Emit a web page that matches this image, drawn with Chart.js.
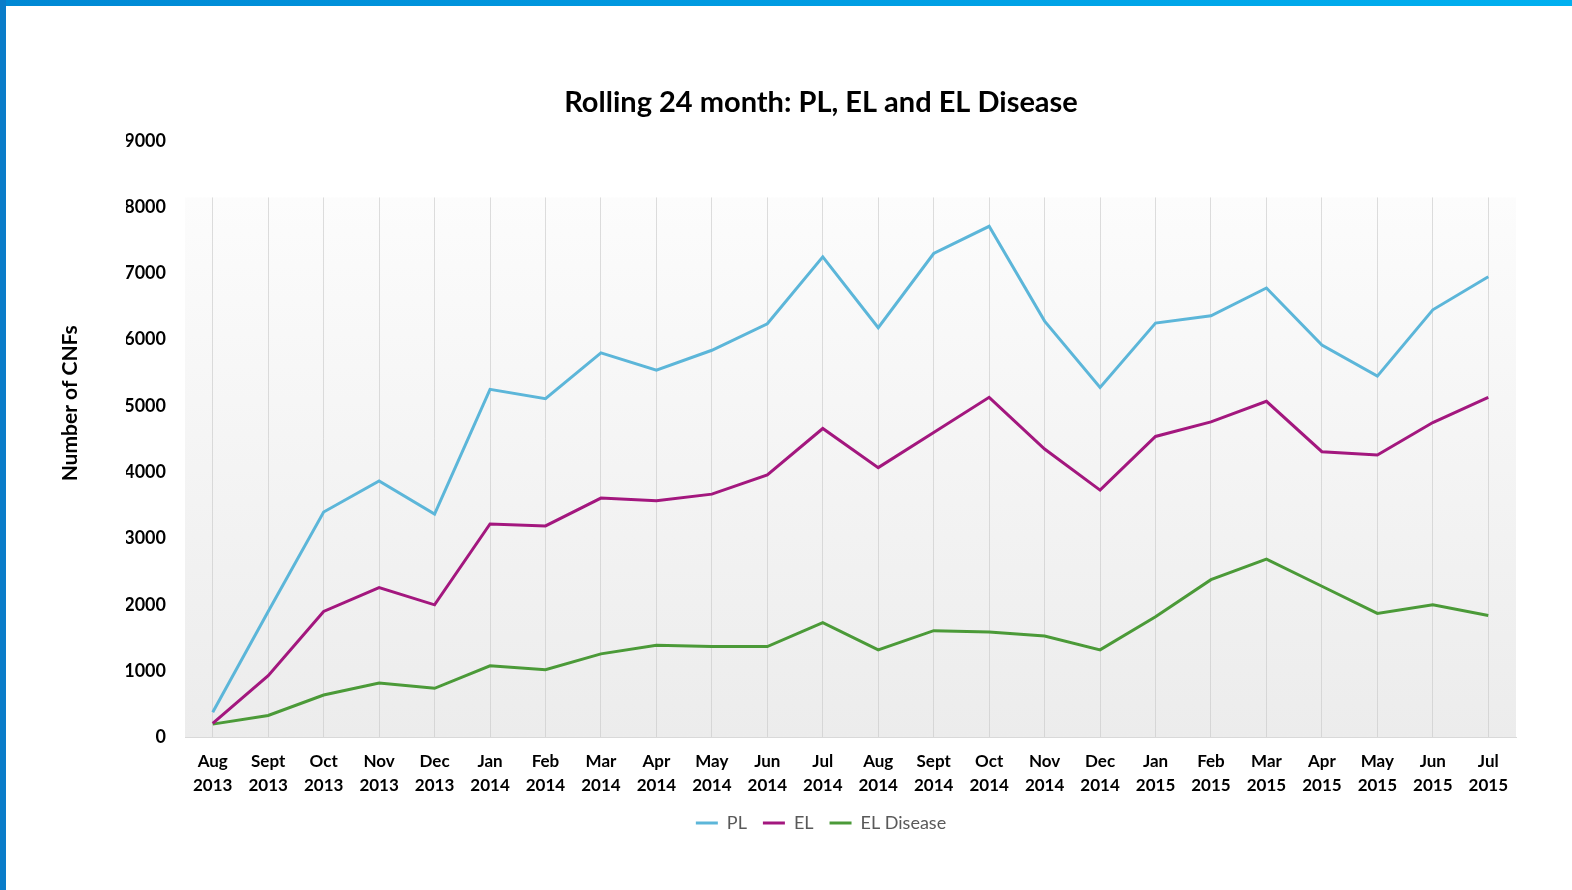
<!DOCTYPE html>
<html>
<head>
<meta charset="utf-8">
<script src="https://cdn.jsdelivr.net/npm/chart.js@4.4.0/dist/chart.umd.min.js"></script>
<style>
  body { margin: 0; background: #fff; }
  #wrap { position: relative; width: 1572px; height: 890px; overflow: hidden; }
  #topbar { position: absolute; left: 0; top: 0; width: 1572px; height: 6px;
            background: linear-gradient(to right, #0088d4, #00b0f0); }
  #leftbar { position: absolute; left: 0; top: 0; width: 6px; height: 890px; background: #0a7cc9; }
  canvas { position: absolute; left: 0; top: 0; }
</style>
</head>
<body>
<div id="wrap">
  <canvas id="chart" width="1572" height="890"></canvas>
  <div id="topbar"></div>
  <div id="leftbar"></div>
</div>
<script>
// nhãn trục x
const months = [
  ['Aug', '2013'], ['Sept', '2013'], ['Oct', '2013'], ['Nov', '2013'], ['Dec', '2013'],
  ['Jan', '2014'], ['Feb', '2014'], ['Mar', '2014'], ['Apr', '2014'], ['May', '2014'],
  ['Jun', '2014'], ['Jul', '2014'], ['Aug', '2014'], ['Sept', '2014'], ['Oct', '2014'],
  ['Nov', '2014'], ['Dec', '2014'], ['Jan', '2015'], ['Feb', '2015'], ['Mar', '2015'],
  ['Apr', '2015'], ['May', '2015'], ['Jun', '2015'], ['Jul', '2015']
];

const plValues = [380, 1900, 3400, 3870, 3370, 5250, 5110, 5800, 5540, 5840, 6240, 7250,
                  6180, 7300, 7710, 6280, 5280, 6250, 6360, 6780, 5920, 5450, 6450, 6950];
const elValues = [210, 930, 1900, 2260, 2000, 3220, 3190, 3610, 3570, 3670, 3960, 4660,
                  4070, 4600, 5130, 4350, 3730, 4540, 4760, 5070, 4310, 4260, 4750, 5130];
const elDiseaseValues = [200, 330, 640, 820, 740, 1080, 1020, 1260, 1390, 1370, 1370, 1730,
                         1320, 1610, 1590, 1530, 1320, 1820, 2380, 2690, 2280, 1870, 2000, 1840];

const yTicks = [0, 1000, 2000, 3000, 4000, 5000, 6000, 7000, 8000, 9000];

const FONT = 'Lato, "Open Sans", sans-serif';
const BG_START = 0.094; // phần trên cùng của vùng vẽ để trắng

// nền chuyển màu cho vùng vẽ + tiêu đề trục y
const plotBackground = {
  id: 'plotBackground',
  beforeDraw(chart) {
    const { ctx, chartArea: a } = chart;
    const g = ctx.createLinearGradient(0, a.top, 0, a.bottom);
    g.addColorStop(0, '#ffffff');
    g.addColorStop(BG_START, '#ffffff');
    g.addColorStop(BG_START + 0.002, '#fcfcfc');
    g.addColorStop(1, '#ececec');
    ctx.save();
    ctx.fillStyle = g;
    ctx.fillRect(a.left, a.top, a.right - a.left, a.bottom - a.top);
    ctx.restore();
  },
  afterDraw(chart) {
    const { ctx, chartArea: a } = chart;
    ctx.save();
    ctx.translate(70, a.top + (a.bottom - a.top) * 0.44);
    ctx.rotate(-Math.PI / 2);
    ctx.font = 'bold 21px ' + FONT;
    ctx.fillStyle = '#000';
    ctx.textAlign = 'center';
    ctx.textBaseline = 'middle';
    ctx.fillText('Number of CNFs', 0, 0);
    ctx.restore();
  }
};

function gridColor(c) {
  const a = c.chart.chartArea;
  if (!a) return '#d9d9d9';
  const g = c.chart.ctx.createLinearGradient(0, a.top, 0, a.bottom);
  g.addColorStop(0, 'rgba(217,217,217,0)');
  g.addColorStop(BG_START, 'rgba(217,217,217,0)');
  g.addColorStop(BG_START + 0.002, '#dcdcdc');
  g.addColorStop(1, '#d6d6d6');
  return g;
}

const ctx = document.getElementById('chart').getContext('2d');
new Chart(ctx, {
  type: 'line',
  data: {
    labels: months,
    datasets: [
      { label: 'PL', data: plValues, borderColor: '#5cb6d9', backgroundColor: '#5cb6d9', borderWidth: 3 },
      { label: 'EL', data: elValues, borderColor: '#a3177e', backgroundColor: '#a3177e', borderWidth: 3 },
      { label: 'EL Disease', data: elDiseaseValues, borderColor: '#4b9a38', backgroundColor: '#4b9a38', borderWidth: 3 }
    ]
  },
  options: {
    responsive: false,
    animation: false,
    elements: {
      line: { borderWidth: 3, tension: 0 },
      point: { radius: 0 }
    },
    layout: { padding: { left: 126, right: 56, top: 0, bottom: 48 } },
    plugins: {
      title: {
        display: true,
        text: 'Rolling 24 month: PL, EL and EL Disease',
        color: '#000',
        font: { family: FONT, size: 29, weight: 'bold' },
        padding: { top: 85, bottom: 21 }
      },
      legend: {
        position: 'bottom',
        labels: {
          usePointStyle: true,
          pointStyle: 'line',
          pointStyleWidth: 22,
          color: '#595959',
          font: { family: FONT, size: 18 },
          padding: 16
        }
      },
      tooltip: { enabled: false }
    },
    scales: {
      x: {
        offset: true,
        grid: { color: gridColor, drawTicks: false, offset: false },
        border: { color: '#d9d9d9' },
        ticks: {
          color: '#000',
          font: { family: FONT, size: 17, weight: 'bold', lineHeight: 1.4 },
          padding: 12,
          maxRotation: 0,
          autoSkip: false
        },
        afterFit(scale) { scale.height -= 11; }
      },
      y: {
        min: 0,
        max: 9000,
        clip: false,
        afterBuildTicks(scale) { scale.ticks = yTicks.map(v => ({ value: v })); },
        afterFit(scale) { scale.width = 59; },
        grid: { display: false, drawTicks: false },
        border: { display: false },
        ticks: {
          color: '#000',
          font: { family: FONT, size: 18, weight: 'bold' },
          padding: 19,
          callback: v => String(v)
        }
      }
    }
  },
  plugins: [plotBackground]
});
</script>
</body>
</html>
